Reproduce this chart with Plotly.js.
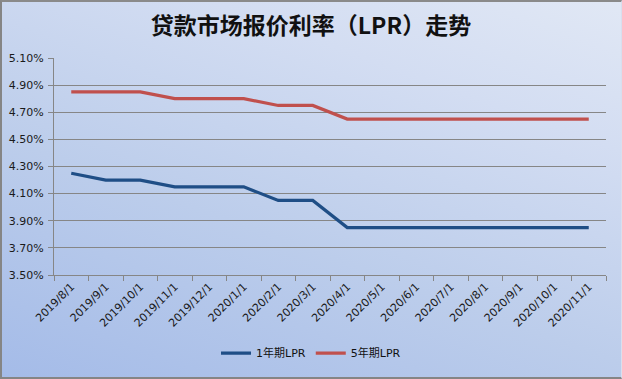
<!DOCTYPE html>
<html>
<head>
<meta charset="utf-8">
<script src="https://cdn.plot.ly/plotly-3.0.1.min.js"></script>
<style>
  html, body { margin: 0; padding: 0; }
  body { width: 622px; height: 379px; overflow: hidden; }
  #wrap { position: relative; width: 622px; height: 379px;
    background: linear-gradient(20deg, #a4bbe8 0%, #bccdeb 40%, #d3ddf2 75%, #e1e8f5 100%); }
  #chart { position: absolute; left: 0; top: 0; width: 622px; height: 379px; }
  #frame { position: absolute; left: 0; top: 0; width: 622px; height: 379px; box-sizing: border-box;
    border-left: 2px solid #858585; border-top: 2px solid #8a8a8a; border-bottom: 2px solid #858585;
    border-right: 1px solid #d8dfee; pointer-events: none; }
</style>
</head>
<body>
<div id="wrap"><div id="chart"></div><div id="frame"></div></div>
<script>
const categories = ["2019/8/1","2019/9/1","2019/10/1","2019/11/1","2019/12/1","2020/1/1","2020/2/1","2020/3/1",
  "2020/4/1","2020/5/1","2020/6/1","2020/7/1","2020/8/1","2020/9/1","2020/10/1","2020/11/1"];
const lpr1y = [4.25,4.20,4.20,4.15,4.15,4.15,4.05,4.05,3.85,3.85,3.85,3.85,3.85,3.85,3.85,3.85];
const lpr5y = [4.85,4.85,4.85,4.80,4.80,4.80,4.75,4.75,4.65,4.65,4.65,4.65,4.65,4.65,4.65,4.65];
const seriesNames = ["1年期LPR", "5年期LPR"];
const yTickVals = [3.5,3.7,3.9,4.1,4.3,4.5,4.7,4.9,5.1];

const data = [
  { x: categories, y: lpr1y, name: seriesNames[0], type: "scatter", mode: "lines",
    line: { color: "#1f4e86", width: 3.2 } },
  { x: categories, y: lpr5y, name: seriesNames[1], type: "scatter", mode: "lines",
    line: { color: "#c0504d", width: 3.2 } }
];

const tickFont = { family: "DejaVu Sans, sans-serif", size: 11, color: "#1a1a1a" };

const layout = {
  width: 622, height: 379,
  paper_bgcolor: "rgba(0,0,0,0)", plot_bgcolor: "rgba(0,0,0,0)",
  margin: { l: 54, r: 16, t: 58, b: 101 },
  title: { text: "贷款市场报价利率（LPR）走势", x: 0.5, xanchor: "center", xref: "container",
    y: 1 - 26/379, yanchor: "middle", yref: "container",
    font: { family: "Noto Sans CJK SC", size: 23, color: "#111", weight: "bold" } },
  xaxis: {
    type: "category", tickson: "boundaries", tickangle: -45, range: [-0.5, 15.5],
    ticks: "outside", ticklen: 5, tickcolor: "#868686", tickwidth: 1,
    showline: true, linecolor: "#868686", linewidth: 1,
    showgrid: false, tickfont: tickFont, automargin: false
  },
  yaxis: {
    range: [3.5, 5.1], tickvals: yTickVals, ticktext: yTickVals.map(v => v.toFixed(2) + "%"),
    ticks: "outside", ticklen: 5, tickcolor: "#868686", ticklabelstandoff: 2,
    showline: true, linecolor: "#868686", linewidth: 1,
    showgrid: true, gridcolor: "#868686", gridwidth: 1,
    zeroline: false, tickfont: tickFont, automargin: false
  },
  showlegend: true,
  legend: { orientation: "h", x: 0.4656, xanchor: "center", y: -0.36, yanchor: "middle",
    font: { family: "DejaVu Sans, Noto Sans CJK SC, sans-serif", size: 11, color: "#111" },
    bgcolor: "rgba(0,0,0,0)", itemwidth: 30 }
};

Plotly.newPlot("chart", data, layout, { displayModeBar: false, staticPlot: true });
</script>
</body>
</html>
